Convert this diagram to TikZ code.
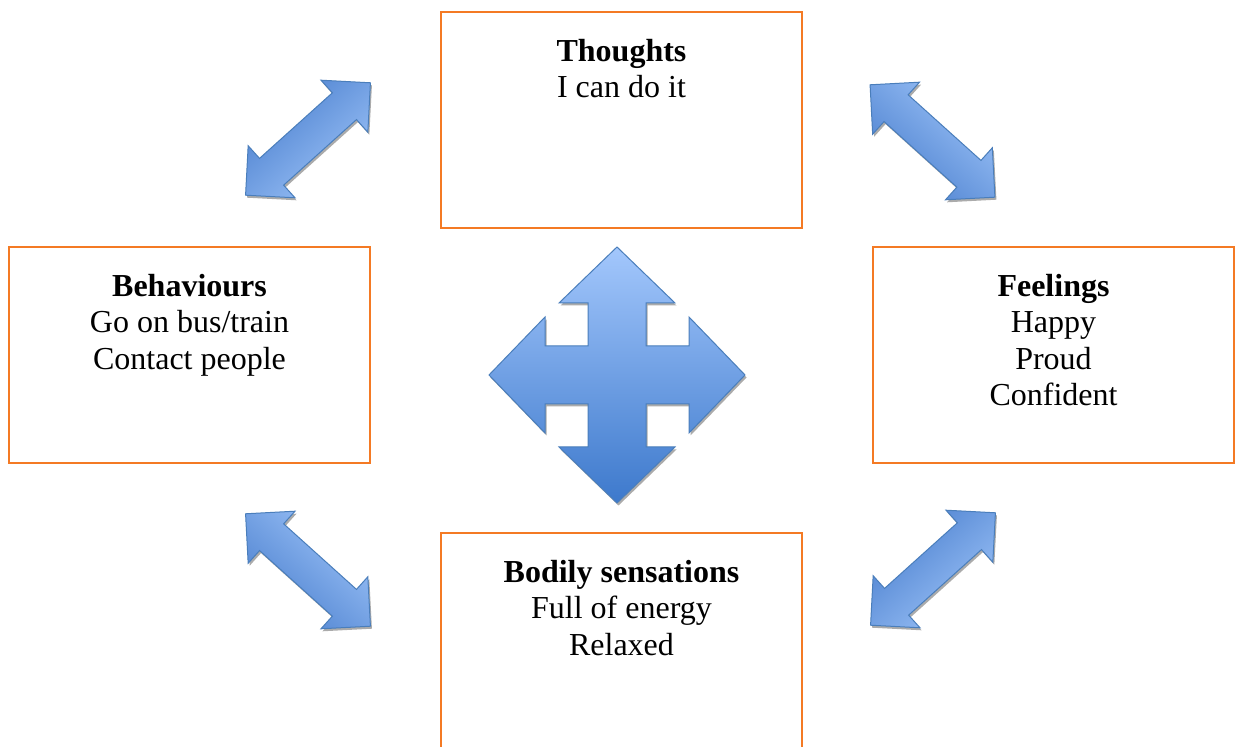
\documentclass[tikz,border=0pt]{standalone}
\usepackage{fontspec}
\setmainfont{Liberation Serif}
\usetikzlibrary{calc}

\definecolor{boxorange}{HTML}{F47A24}
\definecolor{arrowdark}{HTML}{4A7FCE}
\definecolor{arrowlight}{HTML}{9DC3F8}
\definecolor{arrowline}{HTML}{4A7EBB}
\definecolor{crosstop}{HTML}{A3C7FC}
\definecolor{crossbottom}{HTML}{3D79CC}
\definecolor{shadowgray}{HTML}{ABABAB}

\tikzset{
  box/.style={draw=boxorange, line width=2pt, rectangle, inner sep=0pt,
              minimum width=361pt, minimum height=216pt},
  title/.style={anchor=base, inner sep=0pt, font=\bfseries\fontsize{32}{36.5}\selectfont},
  entry/.style={anchor=base, inner sep=0pt, font=\fontsize{32}{36.5}\selectfont},
  blockshadow/.style={fill=shadowgray, draw=none},
  blockarrow/.style={draw=arrowline, line width=1pt, line join=miter},
}

% diagonal double-headed block arrow: #1 centre, #2 direction, #3 shading angle
\newcommand\drawDblArrow[3]{%
  \fill[blockshadow, shift={($(#1)+(1.5,-2.5)$)}, rotate=#2]
    (84,0) -- (49,35) -- (49,18) -- (-49,18) -- (-49,35) -- (-84,0)
    -- (-49,-35) -- (-49,-18) -- (49,-18) -- (49,-35) -- cycle;
  \path[blockarrow, top color=arrowdark, bottom color=arrowlight,
        shading angle=#3, shift={(#1)}, rotate=#2]
    (84,0) -- (49,35) -- (49,18) -- (-49,18) -- (-49,35) -- (-84,0)
    -- (-49,-35) -- (-49,-18) -- (49,-18) -- (49,-35) -- cycle;
}

% four-way block arrow centred at #1
\newcommand\drawCrossArrow[1]{%
  \fill[blockshadow, shift={($(#1)+(1.5,-2.5)$)}]
    (0,128) -- (58,72) -- (29,72) -- (29,29) -- (72,29) -- (72,58) -- (128,0)
    -- (72,-58) -- (72,-29) -- (29,-29) -- (29,-72) -- (58,-72) -- (0,-128)
    -- (-58,-72) -- (-29,-72) -- (-29,-29) -- (-72,-29) -- (-72,-58) -- (-128,0)
    -- (-72,58) -- (-72,29) -- (-29,29) -- (-29,72) -- (-58,72) -- cycle;
  \path[blockarrow, top color=crosstop, bottom color=crossbottom, shift={(#1)}]
    (0,128) -- (58,72) -- (29,72) -- (29,29) -- (72,29) -- (72,58) -- (128,0)
    -- (72,-58) -- (72,-29) -- (29,-29) -- (29,-72) -- (58,-72) -- (0,-128)
    -- (-58,-72) -- (-29,-72) -- (-29,-29) -- (-72,-29) -- (-72,-58) -- (-128,0)
    -- (-72,58) -- (-72,29) -- (-29,29) -- (-29,72) -- (-58,72) -- cycle;
}

\begin{document}
\begin{tikzpicture}[x=1pt, y=1pt]
  \useasboundingbox (0,0) rectangle (1237,747);
  \fill[white] (0,0) rectangle (1237,747);
  \clip (0,0) rectangle (1237,747);

  % the four boxes
  \node[box] (thoughts)   at (621.5,627) {};
  \node[box] (behaviours) at (189.5,392) {};
  \node[box] (feelings)   at (1053.5,392) {};
  \node[box, minimum height=244pt] (bodily) at (621.5,92) {};

  % box texts
  \node[title] (thoughtsT) at ($(thoughts.north)+(0,-50.5)$) {Thoughts};
  \node[entry] (thoughts1) at ($(thoughts.north)+(0,-87)$) {I can do it};

  \node[title] (behavioursT) at ($(behaviours.north)+(0,-50.5)$) {Behaviours};
  \node[entry] (behaviours1) at ($(behaviours.north)+(0,-87)$) {Go on bus/train};
  \node[entry] (behaviours2) at ($(behaviours.north)+(0,-123.5)$) {Contact people};

  \node[title] (feelingsT) at ($(feelings.north)+(0,-50.5)$) {Feelings};
  \node[entry] (feelings1) at ($(feelings.north)+(0,-87)$) {Happy};
  \node[entry] (feelings2) at ($(feelings.north)+(0,-123.5)$) {Proud};
  \node[entry] (feelings3) at ($(feelings.north)+(0,-160)$) {Confident};

  \node[title] (bodilyT) at ($(bodily.north)+(0,-50.5)$) {Bodily sensations};
  \node[entry] (bodily1) at ($(bodily.north)+(0,-87)$) {Full of energy};
  \node[entry] (bodily2) at ($(bodily.north)+(0,-123.5)$) {Relaxed};

  % block arrows
  \coordinate (arrowTL) at (308,608);
  \coordinate (arrowTR) at (932.5,606);
  \coordinate (arrowBL) at (308,177);
  \coordinate (arrowBR) at (933,178);
  \coordinate (cross)   at (617,372);

  \drawDblArrow{arrowTL}{42}{42}
  \drawDblArrow{arrowTR}{-42}{138}
  \drawDblArrow{arrowBL}{-42}{138}
  \drawDblArrow{arrowBR}{42}{42}
  \drawCrossArrow{cross}
\end{tikzpicture}
\end{document}
